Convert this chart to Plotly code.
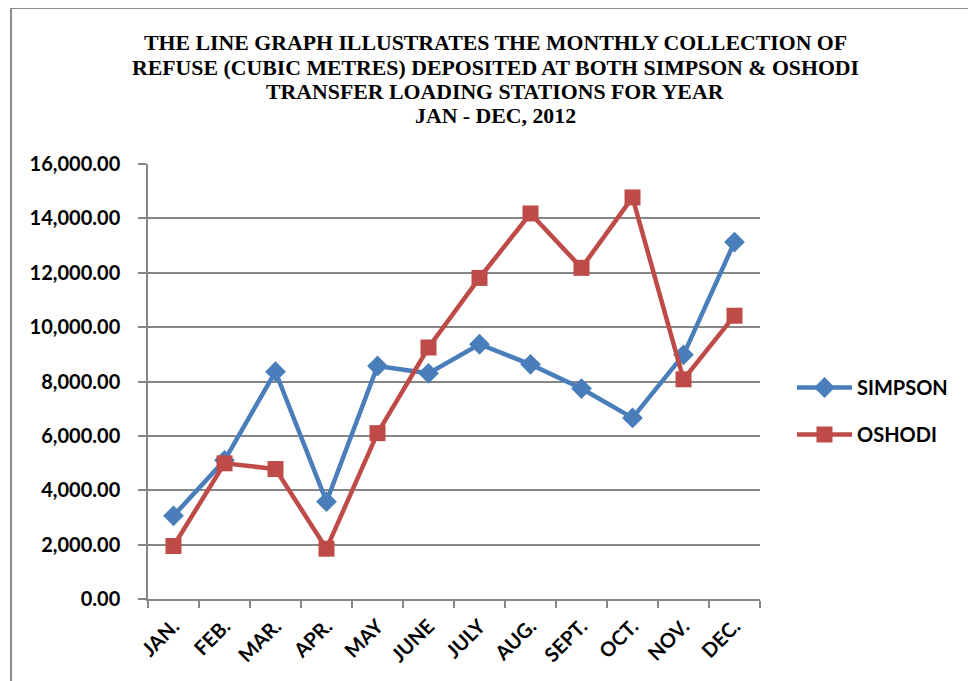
import plotly.graph_objects as go

months = ["JAN.", "FEB.", "MAR.", "APR.", "MAY", "JUNE", "JULY", "AUG.", "SEPT.", "OCT.", "NOV.", "DEC."]
simpson = [3060, 5100, 8360, 3580, 8570, 8300, 9370, 8630, 7740, 6660, 8980, 13130]
oshodi = [1950, 4990, 4780, 1850, 6100, 9250, 11810, 14180, 12180, 14770, 8080, 10420]
y_ticks = [0, 2000, 4000, 6000, 8000, 10000, 12000, 14000, 16000]

title_lines = [
    "THE LINE GRAPH ILLUSTRATES THE MONTHLY COLLECTION OF",
    "REFUSE (CUBIC METRES) DEPOSITED AT BOTH SIMPSON &amp; OSHODI",
    "TRANSFER LOADING STATIONS FOR YEAR",
    "JAN - DEC, 2012",
]

W, H = 976, 681
OFF = 8  # browser body margin
L, R, T, B = 148 - OFF, 760 - OFF, 164 - OFF, 599 - OFF

def px_x(p):
    return (p - OFF - L) / (R - L)

def px_y(p):
    return (B - (p - OFF)) / (B - T)

fig = go.Figure()
fig.add_trace(go.Scatter(
    x=months, y=simpson, name="SIMPSON", mode="lines+markers",
    line=dict(color="#4A7EBB", width=4.5),
    marker=dict(symbol="diamond", size=16, color="#4A7EBB"),
    legendgroup="a",
))
fig.add_trace(go.Scatter(
    x=months, y=oshodi, name="OSHODI", mode="lines+markers",
    line=dict(color="#BE4B48", width=4.5),
    marker=dict(symbol="square", size=16, color="#BE4B48"),
    legendgroup="b",
))

fig.add_shape(type="rect", xref="paper", yref="paper",
              x0=px_x(11), x1=px_x(1000), y0=px_y(720), y1=px_y(8),
              line=dict(color="#8C8C8C", width=2), fillcolor="rgba(0,0,0,0)", layer="below")

title_y = [42, 66.5, 91, 115.5]
for line, yy in zip(title_lines, title_y):
    fig.add_annotation(
        text=line, xref="paper", yref="paper",
        x=px_x(495), y=px_y(yy + 1), xanchor="center", yanchor="middle",
        showarrow=False,
        font=dict(family="Liberation Serif", size=21.8, color="black", weight="bold"),
    )

fig.update_layout(
    width=W, height=H,
    margin=dict(l=L, r=W - R, t=T, b=H - B),
    paper_bgcolor="white", plot_bgcolor="white",
    showlegend=True,
    legend=dict(
        x=px_x(792), xanchor="left", y=px_y(411), yanchor="middle",
        font=dict(family="Lato", size=20, color="black", weight="bold"),
        itemwidth=55, tracegroupgap=18, bgcolor="rgba(0,0,0,0)",
    ),
    xaxis=dict(
        type="category", tickangle=-45, tickson="boundaries",
        showgrid=False, showline=True, linecolor="#868686", linewidth=1.5,
        ticks="outside", ticklen=7, tickcolor="#868686", tickwidth=1.5,
        tickfont=dict(family="Lato", size=20, color="black", weight="bold"),
        range=[-0.5, 11.5], ticklabelstandoff=6,
    ),
    yaxis=dict(
        range=[0, 16000], tickvals=y_ticks,
        tickformat=",.2f",
        showgrid=True, gridcolor="#868686", gridwidth=1.5,
        showline=True, linecolor="#868686", linewidth=1.5,
        ticks="outside", ticklen=8, tickcolor="#868686", tickwidth=1.5,
        tickfont=dict(family="Lato", size=20, color="black", weight="bold"),
        zeroline=False, ticklabelstandoff=14,
    ),
)

fig.write_html("out.html")
